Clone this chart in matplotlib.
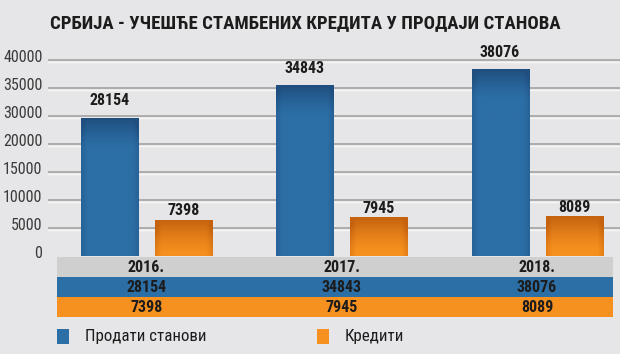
import numpy as np
import matplotlib
matplotlib.use('Agg')
import matplotlib.pyplot as plt
from matplotlib import font_manager
from matplotlib.patches import Rectangle
from matplotlib.transforms import ScaledTranslation

years = ['2016.', '2017.', '2018.']
sold = [28154, 34843, 38076]
loans = [7398, 7945, 8089]
series_names = ['Продати станови', 'Кредити']
# the original axis skips 25000, kept as drawn
tick_labels = ['0', '5000', '10000', '15000', '20000', '30000', '35000', '40000']
title = 'СРБИЈА - УЧЕШЋЕ СТАМБЕНИХ КРЕДИТА У ПРОДАЈИ СТАНОВА'

BG = '#e6e6e8'
BLUE = '#2c6ea6'
ORANGE = '#f6901e'
GRAY_ROW = '#cfcfd0'
TXT = '#1c1c1c'

installed = {f.name for f in font_manager.fontManager.ttflist}
narrow = next((f for f in ['Liberation Sans Narrow', 'Roboto Condensed', 'DejaVu Sans']
               if f in installed), 'DejaVu Sans')
plt.rcParams['font.family'] = [narrow, 'DejaVu Sans']

W, H = 620, 354


def box(l, t, r, b):
    # pixel box (from top-left) -> figure fraction rect
    return [l / W, 1 - b / H, (r - l) / W, (b - t) / H]


fig = plt.figure(figsize=(W / 100, H / 100), dpi=100, facecolor=BG)

ax = fig.add_axes(box(48, 40, 620, 256))
ax.set_facecolor(BG)
for s in ax.spines.values():
    s.set_visible(False)

xlim = (-0.5045, 2.425)
ylim = (0, 44080)
grid_step = 5700
ax.set_xlim(*xlim)
ax.set_ylim(*ylim)

down = ScaledTranslation(0, -1.2 / 72, fig.dpi_scale_trans)
for i in range(1, len(tick_labels)):
    hl = ax.axhline(i * grid_step, color='#f6f6f6', lw=1.0, zorder=0)
    hl.set_transform(hl.get_transform() + down)
    ax.axhline(i * grid_step, color='#9c9c9c', lw=1.1, zorder=0)

ax.set_yticks(np.arange(len(tick_labels)) * grid_step, tick_labels)
ax.tick_params(axis='y', length=0, pad=4, labelsize=11.5, labelcolor='#3a3a3a')
ax.set_xticks([])
off = ScaledTranslation(0, 4 / 100, fig.dpi_scale_trans)
for lab in ax.get_yticklabels():
    lab.set_transform(lab.get_transform() + off)

x = np.arange(len(years))
bw = 0.292
shift = 0.1895
b1 = ax.bar(x - shift, sold, bw, color=BLUE, zorder=2)
b2 = ax.bar(x + shift, loans, bw, color=ORANGE, zorder=2)


def shade(bars, base, dark, depth):
    # vertical gradient: darker band at the top, slight darkening at the sides
    base = np.array(matplotlib.colors.to_rgb(base))
    dark = np.array(matplotlib.colors.to_rgb(dark))
    for bar in bars:
        x0, y0 = bar.get_x(), bar.get_y()
        w, h = bar.get_width(), bar.get_height()
        ys = np.linspace(y0, y0 + h, 120)
        t = np.clip(1 - (y0 + h - ys) / depth, 0, 1) ** 1.3
        xs = np.linspace(-1, 1, 40)
        e = np.clip((np.abs(xs) - 0.8) / 0.2, 0, 1) * 0.35
        k = np.clip(t[:, None] + e[None, :], 0, 1)
        img = base[None, None, :] * (1 - k[..., None]) + dark[None, None, :] * k[..., None]
        im = ax.imshow(img, extent=[x0, x0 + w, y0, y0 + h], origin='lower',
                       aspect='auto', zorder=2.5, interpolation='bilinear')
        im.set_clip_path(bar)


shade(b1, BLUE, '#1f4f7f', 6000)
shade(b2, ORANGE, '#c4620f', 7000)
ax.set_xlim(*xlim)
ax.set_ylim(*ylim)

ax.bar_label(b1, padding=7, fontsize=11.5, fontweight='bold', color=TXT)
ax.bar_label(b2, padding=1, fontsize=11.5, fontweight='bold', color=TXT)

# table under the plot
tab = fig.add_axes(box(48, 257, 620, 317))
tab.set_xlim(*xlim)
tab.set_ylim(0, 3)
tab.axis('off')
t_left, t_right = -0.458, 2.389
rows = [(years, GRAY_ROW), (sold, BLUE), (loans, ORANGE)]
for r, (vals, col) in enumerate(rows):
    y0 = 2 - r
    tab.add_patch(Rectangle((t_left, y0), t_right - t_left, 1, color=col, lw=0))
    for xi, v in zip(x, vals):
        tab.text(xi, y0 + 0.47, str(v), ha='center', va='center',
                 fontsize=11.5, fontweight='bold', color=TXT)

# legend
for (l, col), name in zip([(57, BLUE), (317, ORANGE)], series_names):
    fig.add_artist(Rectangle((l / W, 1 - 344 / H), 12 / W, 15 / H,
                             color=col, lw=0, transform=fig.transFigure))
    fig.text((l + 28) / W, 1 - 337 / H, name, ha='left', va='center',
             fontsize=12.2, color=TXT)

fig.text(305 / W, 1 - 23 / H, title, ha='center', va='center',
         fontsize=13.5, fontweight='bold', color=TXT)

fig.savefig('out.png', dpi=100, facecolor=BG)
